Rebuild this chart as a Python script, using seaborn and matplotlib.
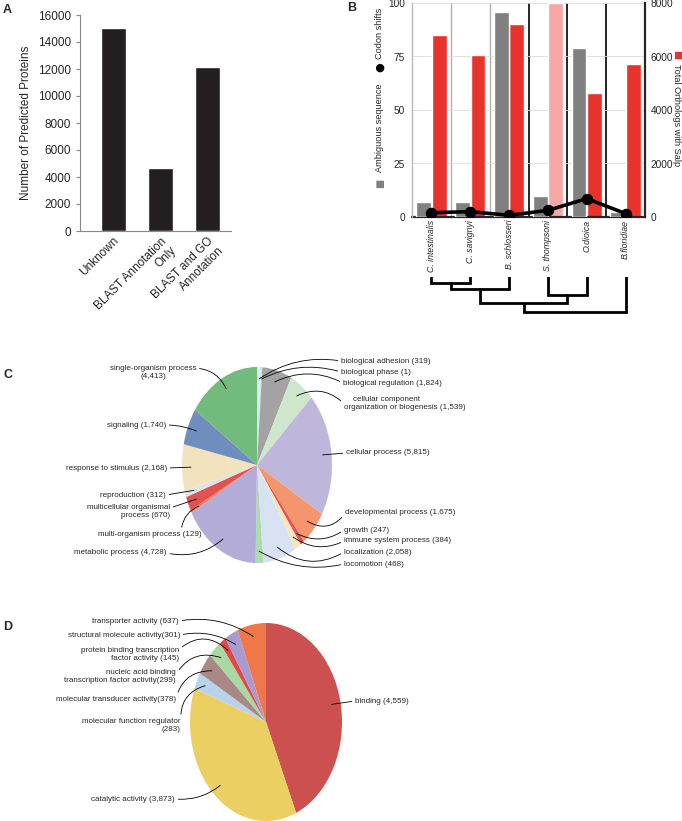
import numpy as np
import pandas as pd
import matplotlib
matplotlib.use("Agg")
import matplotlib.pyplot as plt
import seaborn as sns

sns.set_style("white")
plt.rcParams['font.family'] = ['Liberation Sans', 'DejaVu Sans']
NARROW = ['Liberation Sans Narrow', 'Liberation Sans', 'DejaVu Sans']

# ---- data ----
# A: annotation status of predicted proteins
annot_cats = ["Unknown", "BLAST Annotation\nOnly", "BLAST and GO\nAnnotation"]
annot_counts = [15010, 4630, 12160]

# B: per species
species = ["C. intestinalis", "C. savignyi", "B. schlosseri", "S. thompsoni", "O.dioica", "B.floridiae"]
ambiguous = [7.0, 7.0, 95.8, 9.8, 78.9, 2.3]
codon_shifts = [2.0, 2.5, 0.8, 3.1, 8.6, 1.6]
orthologs = [6810, 6040, 7210, 8000, 4630, 5720]
# merges: (left node, right node, height); leaves are 0-5, new nodes numbered from 6
tree_merges = [(0, 1, 6), (6, 2, 12), (3, 4, 18), (7, 8, 26), (9, 5, 35)]

# C: biological process GO terms (clockwise from top)
bp_labels = ["biological adhesion (319)", "biological phase (1)", "biological regulation (1,824)",
             "    cellular component\norganization or biogenesis (1,539)", "cellular process (5,815)",
             "developmental process (1,675)", "growth (247)", "immune system process (384)",
             "localization (2,058)", "locomotion (468)", "metabolic process (4,728)",
             "multi-organism process (129)", "multicellular organismal\nprocess (670)",
             "reproduction (312)", "response to stimulus (2,168)", "signaling (1,740)",
             "single-organism process\n(4,413)"]
bp_values = [319, 1, 1824, 1539, 5815, 1675, 247, 384, 2058, 468, 4728, 129, 670, 312, 2168, 1740, 4413]
bp_colors = ["#dde7f3", "#cccccc", "#a3a3a3", "#cde6cc", "#bfb7db", "#f4956e", "#e25555", "#f6e6b8",
             "#d8e2f2", "#acdcae", "#b3acd6", "#f08050", "#e35252", "#e2e2e2", "#f2e2be", "#6f8ebd",
             "#72bb7d"]

# D: molecular function GO terms (clockwise from top)
mf_labels = ["binding (4,559)", "catalytic activity (3,873)", "molecular function regulator\n(283)",
             "molecular transducer activity(378)", "nucleic acid binding\ntranscription factor activity(299)",
             "protein binding transcription\nfactor activity (145)", "structural molecule activity(301)",
             "transporter activity (637)"]
mf_values = [4559, 3873, 283, 378, 299, 145, 301, 637]
mf_colors = ["#cc5050", "#ebcf62", "#b9d3ec", "#a98986", "#a9d9a2", "#e24848", "#a99bd2", "#f07848"]

# label layout: (x px, y px, ha, relpos, rad)
bp_layout = [(341, 361, 'left', (0, 0.5), 0.2), (341, 372, 'left', (0, 0.5), 0.2),
             (343, 383, 'left', (0, 0.5), 0.25), (344, 403, 'left', (0, 0.45), 0.35),
             (346, 453, 'left', (0, 0.5), 0.0), (345, 512, 'left', (0, 0.3), -0.45),
             (344, 530, 'left', (0, 0.5), -0.3), (344, 541, 'left', (0, 0.5), -0.3),
             (344, 552, 'left', (0, 0.5), -0.35), (344, 564, 'left', (0, 0.5), -0.2),
             (167, 553, 'right', (1, 0.5), 0.25), (202, 534, 'right', (0.8, 1), -0.3),
             (170, 511, 'right', (1, 0.7), 0.0), (166, 495, 'right', (1, 0.5), 0.0),
             (167, 468, 'right', (1, 0.5), 0.0), (166, 425, 'right', (1, 0.5), -0.1),
             (153, 372, 'center', (1, 0.75), -0.3)]
mf_layout = [(355, 701, 'left', (0, 0.5), 0.0), (175, 799, 'right', (1, 0.5), 0.2),
             (181, 725, 'right', (1, 0.8), -0.4), (176, 699, 'right', (1, 0.5), -0.4),
             (176, 676, 'right', (1, 0.6), -0.4), (179, 654, 'right', (1, 0.8), -0.45),
             (180, 635, 'right', (1, 0.5), -0.2), (179, 621, 'right', (1, 0.5), -0.2)]

W, H = 682, 821
fig = plt.figure(figsize=(W / 100, H / 100), dpi=100)


def px_axes(x, y, w, h):
    return fig.add_axes([x / W, 1 - (y + h) / H, w / W, h / H])


def fxy(x, y):
    return (x / W, 1 - y / H)


# ---- panel A ----
axA = px_axes(80, 15, 151, 216)
dfA = pd.DataFrame({"cat": annot_cats, "n": annot_counts})
sns.barplot(data=dfA, x="cat", y="n", color="#231f20", width=0.53, saturation=1, ax=axA)
axA.set_xlim(-0.7, 2.5)
axA.set_ylim(0, 16000)
axA.set_yticks(range(0, 16001, 2000))
axA.set_xlabel("")
axA.set_ylabel("Number of Predicted Proteins", fontsize=8.5)
axA.tick_params(axis='y', labelsize=8.5, length=3, color="#888888", direction='out', left=True)
axA.tick_params(axis='x', labelsize=8.5, length=0, pad=3)
plt.setp(axA.get_xticklabels(), rotation=45, ha='right', rotation_mode='anchor', ma='right')
sns.despine(ax=axA)
for s in ["left", "bottom"]:
    axA.spines[s].set_color("#888888")
    axA.spines[s].set_linewidth(0.8)

# ---- panel B ----
axB = px_axes(412, 3, 233, 214)
axB2 = axB.twinx()
x = np.arange(len(species))
bar_red = ["#f4a7a4" if s == "S. thompsoni" else "#e8322c" for s in species]
axB2.bar(x + 0.2, orthologs, width=0.38, color=bar_red)
axB2.set_ylim(0, 8000)
axB2.set_yticks(range(0, 8001, 2000))
axB2.yaxis.grid(True, color="#dcdcdc", lw=0.6)
axB2.set_axisbelow(True)
for i in range(len(species) - 1):
    axB2.axvline(i + 0.5, color="#b0b0b0" if i < 2 else "black", lw=1.0 if i < 2 else 1.2, zorder=0)
axB2.tick_params(axis='y', labelsize=7.3, length=0, pad=4)
for s in ["top", "left"]:
    axB2.spines[s].set_visible(False)
axB2.spines["right"].set_linewidth(1.6)
axB2.spines["bottom"].set_linewidth(1.6)

axB.set_zorder(axB2.get_zorder() + 1)
axB.patch.set_visible(False)
axB.bar(x - 0.2, ambiguous, width=0.38, color="#808080")
sns.lineplot(x=x, y=codon_shifts, ax=axB, color="black", lw=2.6, marker="o", markersize=7.5,
             markeredgecolor="black")
axB.set_xlim(-0.5, len(species) - 0.5)
axB.set_ylim(0, 100)
axB.set_yticks([0, 25, 50, 75, 100])
axB.tick_params(axis='y', labelsize=7.3, length=0, pad=5)
axB.set_xticks(x)
axB.set_xticklabels(species, rotation=90, fontsize=6.3, style='italic')
axB.tick_params(axis='x', length=0, pad=2)
for s in ["top", "right", "bottom"]:
    axB.spines[s].set_visible(False)
axB.spines["left"].set_color("#b8b8b8")
axB.spines["left"].set_linewidth(1.0)

fig.text(*fxy(380, 183), "\u25a0", color="#808080", fontsize=7, rotation=90, ha='center', va='center',
         family=['DejaVu Sans'])
fig.text(*fxy(380, 128), "Ambiguous sequence", fontsize=6.6, rotation=90, ha='center', va='center')
fig.text(*fxy(380, 67), "\u25cf", color="black", fontsize=8, rotation=90, ha='center', va='center',
         family=['DejaVu Sans'])
fig.text(*fxy(380, 33), "Codon shifts", fontsize=6.6, rotation=90, ha='center', va='center')
fig.text(*fxy(677, 55), "\u25a0", color="#e8322c", fontsize=7, rotation=270, ha='center', va='center',
         family=['DejaVu Sans'])
fig.text(*fxy(677, 115), "Total Orthologs with Salp", fontsize=6.6, rotation=270, ha='center', va='center')

# dendrogram under species labels
axT = px_axes(412, 277, 233, 40)
axT.set_xlim(axB.get_xlim())
axT.set_ylim(40, 0)
axT.axis('off')
node_x = {i: float(i) for i in range(len(species))}
node_h = {i: 0 for i in range(len(species))}
for k, (a, b, h) in enumerate(tree_merges):
    axT.plot([node_x[a], node_x[a], node_x[b], node_x[b]], [node_h[a], h, h, node_h[b]],
             color="black", lw=2.0, solid_joinstyle='miter')
    nid = len(species) + k
    node_x[nid] = (node_x[a] + node_x[b]) / 2
    node_h[nid] = h


# ---- pies C and D ----
def pie_panel(box, values, colors, labels, layout):
    ax = px_axes(*box)
    wedges, _ = ax.pie(values, colors=colors, startangle=90, counterclock=False,
                       wedgeprops=dict(linewidth=0))
    ax.set_aspect('auto')
    ax.set_xlim(-1, 1)
    ax.set_ylim(-1, 1)
    for w, lab, (tx, ty, ha, rp, rad) in zip(wedges, labels, layout):
        ang = np.deg2rad((w.theta1 + w.theta2) / 2)
        ax.annotate(lab, xy=(0.88 * np.cos(ang), 0.88 * np.sin(ang)), xycoords='data',
                    xytext=fxy(tx, ty), textcoords='figure fraction', ha=ha, va='center',
                    multialignment='right' if ha == 'right' else ('center' if ha == 'center' else 'left'),
                    fontsize=5.8, family=NARROW, annotation_clip=False,
                    arrowprops=dict(arrowstyle='-', lw=0.6, color='black', shrinkA=0, shrinkB=0,
                                    relpos=rp, connectionstyle=f'arc3,rad={rad}'))
    return ax


pie_panel((182, 367, 150, 196), bp_values, bp_colors, bp_labels, bp_layout)
pie_panel((190, 623, 152, 198), mf_values, mf_colors, mf_labels, mf_layout)

for letter, (lx, ly) in zip("ABCD", [(3, 4), (347, 2), (4, 369), (3, 621)]):
    fig.text(*fxy(lx, ly), letter, fontsize=9, fontweight='bold', ha='left', va='top')

fig.savefig("out.png", dpi=100)
